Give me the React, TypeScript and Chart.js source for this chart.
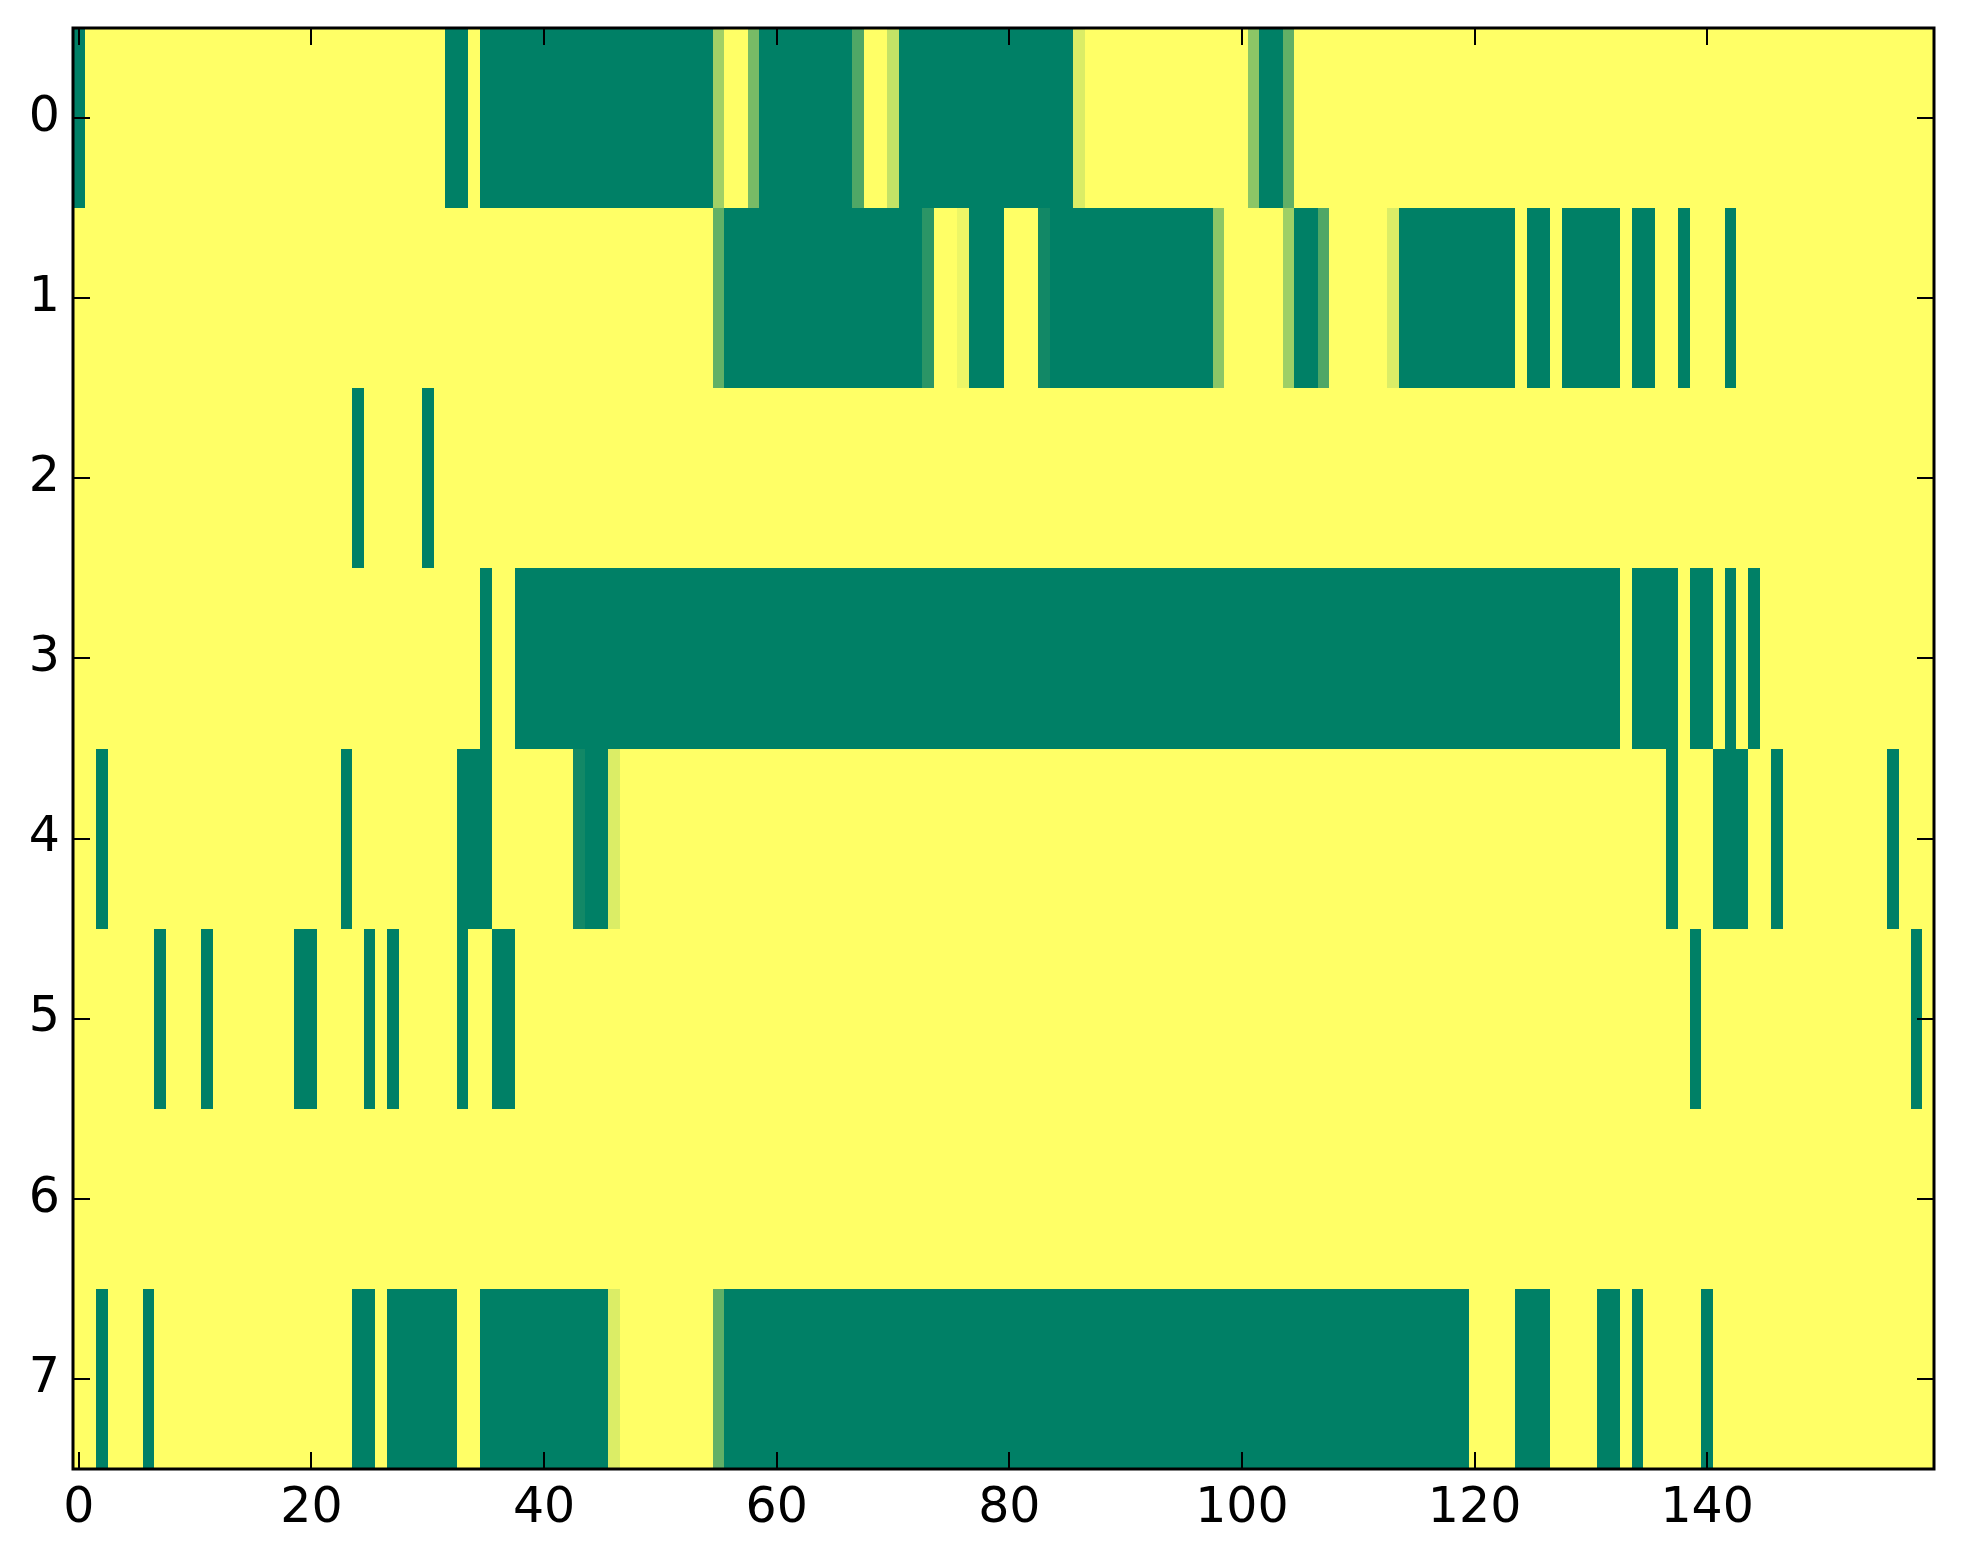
import React, { useEffect, useRef } from "react";
import { Chart, registerables } from "chart.js";

Chart.register(...registerables);

// Row values (0 = green end of the "summer" colormap, 1 = yellow end)
const row0 = [
  0, 1, 1, 1, 1, 1, 1, 1, 1, 1, 1, 1, 1, 1, 1, 1, 1, 1, 1, 1,
  1, 1, 1, 1, 1, 1, 1, 1, 1, 1, 1, 1, 0, 0, 1, 0, 0, 0, 0, 0,
  0, 0, 0, 0, 0, 0, 0, 0, 0, 0, 0, 0, 0, 0, 0, 0.63, 1, 1, 0.47, 0,
  0, 0, 0, 0, 0, 0, 0, 0.31, 1, 1, 0.77, 0, 0, 0, 0, 0, 0, 0, 0, 0,
  0, 0, 0, 0, 0, 0, 0.86, 1, 1, 1, 1, 1, 1, 1, 1, 1, 1, 1, 1, 1,
  1, 0.55, 0, 0, 0.38, 1, 1, 1, 1, 1, 1, 1, 1, 1, 1, 1, 1, 1, 1, 1,
  1, 1, 1, 1, 1, 1, 1, 1, 1, 1, 1, 1, 1, 1, 1, 1, 1, 1, 1, 1,
  1, 1, 1, 1, 1, 1, 1, 1, 1, 1, 1, 1, 1, 1, 1, 1, 1, 1, 1, 1,
];
const row1 = [
  1, 1, 1, 1, 1, 1, 1, 1, 1, 1, 1, 1, 1, 1, 1, 1, 1, 1, 1, 1,
  1, 1, 1, 1, 1, 1, 1, 1, 1, 1, 1, 1, 1, 1, 1, 1, 1, 1, 1, 1,
  1, 1, 1, 1, 1, 1, 1, 1, 1, 1, 1, 1, 1, 1, 1, 0.38, 0, 0, 0, 0,
  0, 0, 0, 0, 0, 0, 0, 0, 0, 0, 0, 0, 0, 0.17, 1, 1, 0.93, 0, 0, 0,
  1, 1, 1, 0.07, 0, 0, 0, 0, 0, 0, 0, 0, 0, 0, 0, 0, 0, 0, 0.55, 1,
  1, 1, 1, 1, 0.62, 0, 0, 0.31, 1, 1, 1, 1, 1, 0.86, 0, 0, 0, 0, 0, 0,
  0, 0, 0, 0, 1, 0, 0, 1, 0, 0, 0, 0, 0, 1, 0, 0, 1, 1, 0, 1,
  1, 1, 0, 1, 1, 1, 1, 1, 1, 1, 1, 1, 1, 1, 1, 1, 1, 1, 1, 1,
];
const row2 = [
  1, 1, 1, 1, 1, 1, 1, 1, 1, 1, 1, 1, 1, 1, 1, 1, 1, 1, 1, 1,
  1, 1, 1, 1, 0, 1, 1, 1, 1, 1, 0, 1, 1, 1, 1, 1, 1, 1, 1, 1,
  1, 1, 1, 1, 1, 1, 1, 1, 1, 1, 1, 1, 1, 1, 1, 1, 1, 1, 1, 1,
  1, 1, 1, 1, 1, 1, 1, 1, 1, 1, 1, 1, 1, 1, 1, 1, 1, 1, 1, 1,
  1, 1, 1, 1, 1, 1, 1, 1, 1, 1, 1, 1, 1, 1, 1, 1, 1, 1, 1, 1,
  1, 1, 1, 1, 1, 1, 1, 1, 1, 1, 1, 1, 1, 1, 1, 1, 1, 1, 1, 1,
  1, 1, 1, 1, 1, 1, 1, 1, 1, 1, 1, 1, 1, 1, 1, 1, 1, 1, 1, 1,
  1, 1, 1, 1, 1, 1, 1, 1, 1, 1, 1, 1, 1, 1, 1, 1, 1, 1, 1, 1,
];
const row3 = [
  1, 1, 1, 1, 1, 1, 1, 1, 1, 1, 1, 1, 1, 1, 1, 1, 1, 1, 1, 1,
  1, 1, 1, 1, 1, 1, 1, 1, 1, 1, 1, 1, 1, 1, 1, 0, 1, 1, 0, 0,
  0, 0, 0, 0, 0, 0, 0, 0, 0, 0, 0, 0, 0, 0, 0, 0, 0, 0, 0, 0,
  0, 0, 0, 0, 0, 0, 0, 0, 0, 0, 0, 0, 0, 0, 0, 0, 0, 0, 0, 0,
  0, 0, 0, 0, 0, 0, 0, 0, 0, 0, 0, 0, 0, 0, 0, 0, 0, 0, 0, 0,
  0, 0, 0, 0, 0, 0, 0, 0, 0, 0, 0, 0, 0, 0, 0, 0, 0, 0, 0, 0,
  0, 0, 0, 0, 0, 0, 0, 0, 0, 0, 0, 0, 0, 1, 0, 0, 0, 0, 1, 0,
  0, 1, 0, 1, 0, 1, 1, 1, 1, 1, 1, 1, 1, 1, 1, 1, 1, 1, 1, 1,
];
const row4 = [
  1, 1, 0, 1, 1, 1, 1, 1, 1, 1, 1, 1, 1, 1, 1, 1, 1, 1, 1, 1,
  1, 1, 1, 0, 1, 1, 1, 1, 1, 1, 1, 1, 1, 0, 0, 0, 1, 1, 1, 1,
  1, 1, 1, 0.07, 0, 0, 0.86, 1, 1, 1, 1, 1, 1, 1, 1, 1, 1, 1, 1, 1,
  1, 1, 1, 1, 1, 1, 1, 1, 1, 1, 1, 1, 1, 1, 1, 1, 1, 1, 1, 1,
  1, 1, 1, 1, 1, 1, 1, 1, 1, 1, 1, 1, 1, 1, 1, 1, 1, 1, 1, 1,
  1, 1, 1, 1, 1, 1, 1, 1, 1, 1, 1, 1, 1, 1, 1, 1, 1, 1, 1, 1,
  1, 1, 1, 1, 1, 1, 1, 1, 1, 1, 1, 1, 1, 1, 1, 1, 1, 0, 1, 1,
  1, 0, 0, 0, 1, 1, 0, 1, 1, 1, 1, 1, 1, 1, 1, 1, 0, 1, 1, 1,
];
const row5 = [
  1, 1, 1, 1, 1, 1, 1, 0, 1, 1, 1, 0, 1, 1, 1, 1, 1, 1, 1, 0,
  0, 1, 1, 1, 1, 0, 1, 0, 1, 1, 1, 1, 1, 0, 1, 1, 0, 0, 1, 1,
  1, 1, 1, 1, 1, 1, 1, 1, 1, 1, 1, 1, 1, 1, 1, 1, 1, 1, 1, 1,
  1, 1, 1, 1, 1, 1, 1, 1, 1, 1, 1, 1, 1, 1, 1, 1, 1, 1, 1, 1,
  1, 1, 1, 1, 1, 1, 1, 1, 1, 1, 1, 1, 1, 1, 1, 1, 1, 1, 1, 1,
  1, 1, 1, 1, 1, 1, 1, 1, 1, 1, 1, 1, 1, 1, 1, 1, 1, 1, 1, 1,
  1, 1, 1, 1, 1, 1, 1, 1, 1, 1, 1, 1, 1, 1, 1, 1, 1, 1, 1, 0,
  1, 1, 1, 1, 1, 1, 1, 1, 1, 1, 1, 1, 1, 1, 1, 1, 1, 1, 0, 1,
];
const row6 = [
  1, 1, 1, 1, 1, 1, 1, 1, 1, 1, 1, 1, 1, 1, 1, 1, 1, 1, 1, 1,
  1, 1, 1, 1, 1, 1, 1, 1, 1, 1, 1, 1, 1, 1, 1, 1, 1, 1, 1, 1,
  1, 1, 1, 1, 1, 1, 1, 1, 1, 1, 1, 1, 1, 1, 1, 1, 1, 1, 1, 1,
  1, 1, 1, 1, 1, 1, 1, 1, 1, 1, 1, 1, 1, 1, 1, 1, 1, 1, 1, 1,
  1, 1, 1, 1, 1, 1, 1, 1, 1, 1, 1, 1, 1, 1, 1, 1, 1, 1, 1, 1,
  1, 1, 1, 1, 1, 1, 1, 1, 1, 1, 1, 1, 1, 1, 1, 1, 1, 1, 1, 1,
  1, 1, 1, 1, 1, 1, 1, 1, 1, 1, 1, 1, 1, 1, 1, 1, 1, 1, 1, 1,
  1, 1, 1, 1, 1, 1, 1, 1, 1, 1, 1, 1, 1, 1, 1, 1, 1, 1, 1, 1,
];
const row7 = [
  1, 1, 0, 1, 1, 1, 0, 1, 1, 1, 1, 1, 1, 1, 1, 1, 1, 1, 1, 1,
  1, 1, 1, 1, 0, 0, 1, 0, 0, 0, 0, 0, 0, 1, 1, 0, 0, 0, 0, 0,
  0, 0, 0, 0, 0, 0, 0.86, 1, 1, 1, 1, 1, 1, 1, 1, 0.38, 0, 0, 0, 0,
  0, 0, 0, 0, 0, 0, 0, 0, 0, 0, 0, 0, 0, 0, 0, 0, 0, 0, 0, 0,
  0, 0, 0, 0, 0, 0, 0, 0, 0, 0, 0, 0, 0, 0, 0, 0, 0, 0, 0, 0,
  0, 0, 0, 0, 0, 0, 0, 0, 0, 0, 0, 0, 0, 0, 0, 0, 0, 0, 0, 0,
  1, 1, 1, 1, 0, 0, 0, 1, 1, 1, 1, 0, 0, 1, 0, 1, 1, 1, 1, 1,
  0, 1, 1, 1, 1, 1, 1, 1, 1, 1, 1, 1, 1, 1, 1, 1, 1, 1, 1, 1,
];

const rows = [row0, row1, row2, row3, row4, row5, row6, row7];
const xTickValues = [0, 20, 40, 60, 80, 100, 120, 140];
const yTickValues = [0, 1, 2, 3, 4, 5, 6, 7];

// matplotlib "summer" colormap
function summer(t: number): string {
  const r = Math.round(255 * t);
  const g = Math.round(255 * (0.5 + 0.5 * t));
  const b = Math.round(255 * 0.4);
  return `rgb(${r},${g},${b})`;
}

const heatmapPlugin = {
  id: "heatmapCells",
  beforeDatasetsDraw(chart: any) {
    const { ctx, chartArea, scales } = chart;
    const x = scales.x;
    const y = scales.y;
    ctx.save();
    ctx.beginPath();
    ctx.rect(chartArea.left, chartArea.top, chartArea.right - chartArea.left, chartArea.bottom - chartArea.top);
    ctx.clip();
    const pts = chart.data.datasets[0].data as any[];
    for (const p of pts) {
      const x0 = Math.round(x.getPixelForValue(p.x - 0.5));
      const x1 = Math.round(x.getPixelForValue(p.x + 0.5));
      const y0 = Math.round(y.getPixelForValue(p.y - 0.5));
      const y1 = Math.round(y.getPixelForValue(p.y + 0.5));
      ctx.fillStyle = summer(p.v);
      ctx.fillRect(Math.min(x0, x1), Math.min(y0, y1), Math.abs(x1 - x0) + 0.5, Math.abs(y1 - y0) + 0.5);
    }
    ctx.restore();
  },
  afterDatasetsDraw(chart: any) {
    const { ctx, chartArea, scales } = chart;
    const x = scales.x;
    const y = scales.y;
    const L = chartArea.left, R = chartArea.right, T = chartArea.top, B = chartArea.bottom;
    const tickLen = 17;
    ctx.save();
    ctx.strokeStyle = "#000";
    ctx.lineWidth = 2;
    ctx.beginPath();
    for (const v of xTickValues) {
      const px = Math.round(x.getPixelForValue(v));
      ctx.moveTo(px, B);
      ctx.lineTo(px, B - tickLen);
      ctx.moveTo(px, T);
      ctx.lineTo(px, T + tickLen);
    }
    for (const v of yTickValues) {
      const py = Math.round(y.getPixelForValue(v));
      ctx.moveTo(L, py);
      ctx.lineTo(L + tickLen, py);
      ctx.moveTo(R, py);
      ctx.lineTo(R - tickLen, py);
    }
    ctx.stroke();
    ctx.lineWidth = 3;
    ctx.strokeRect(L, T, R - L, B - T);
    ctx.restore();
  },
};

function zeroPadding(s: any) {
  s.paddingLeft = 0;
  s.paddingRight = 0;
  s.paddingTop = 0;
  s.paddingBottom = 0;
}

export default function App() {
  const canvasRef = useRef<HTMLCanvasElement | null>(null);

  useEffect(() => {
    const canvas = canvasRef.current;
    if (!canvas) return;
    const cells: { x: number; y: number; v: number }[] = [];
    rows.forEach((row, r) => {
      row.forEach((v, c) => {
        cells.push({ x: c, y: r, v });
      });
    });
    const font = { family: "'DejaVu Sans', sans-serif", size: 49 };
    const chart = new Chart(canvas, {
      type: "scatter",
      data: {
        datasets: [
          {
            data: cells,
            pointRadius: 0,
            pointHoverRadius: 0,
            showLine: false,
          },
        ],
      },
      options: {
        animation: false,
        responsive: false,
        devicePixelRatio: 1,
        events: [],
        layout: { padding: { left: 0, top: 28, right: 29, bottom: 0 } },
        plugins: {
          legend: { display: false },
          tooltip: { enabled: false },
          title: { display: false },
        },
        scales: {
          x: {
            type: "linear",
            min: -0.5,
            max: 159.5,
            grid: { display: false, drawTicks: false, tickLength: 0 },
            border: { display: false },
            ticks: { color: "#000", font, padding: 11, maxRotation: 0, autoSkip: false },
            afterBuildTicks: (s: any) => {
              s.ticks = xTickValues.map((v) => ({ value: v }));
            },
            afterFit: (s: any) => {
              s.height = 95;
              zeroPadding(s);
            },
          },
          y: {
            type: "linear",
            reverse: true,
            min: -0.5,
            max: 7.5,
            grid: { display: false, drawTicks: false, tickLength: 0 },
            border: { display: false },
            ticks: { color: "#000", font, padding: 13, autoSkip: false },
            afterBuildTicks: (s: any) => {
              s.ticks = yTickValues.map((v) => ({ value: v }));
            },
            afterFit: (s: any) => {
              s.width = 73;
              zeroPadding(s);
            },
          },
        },
      },
      plugins: [heatmapPlugin],
    });
    return () => chart.destroy();
  }, []);

  return (
    <div style={{ position: "fixed", left: 0, top: 0, width: 1963, height: 1564, background: "#fff" }}>
      <canvas ref={canvasRef} width={1963} height={1564} style={{ width: 1963, height: 1564, display: "block" }} />
    </div>
  );
}
